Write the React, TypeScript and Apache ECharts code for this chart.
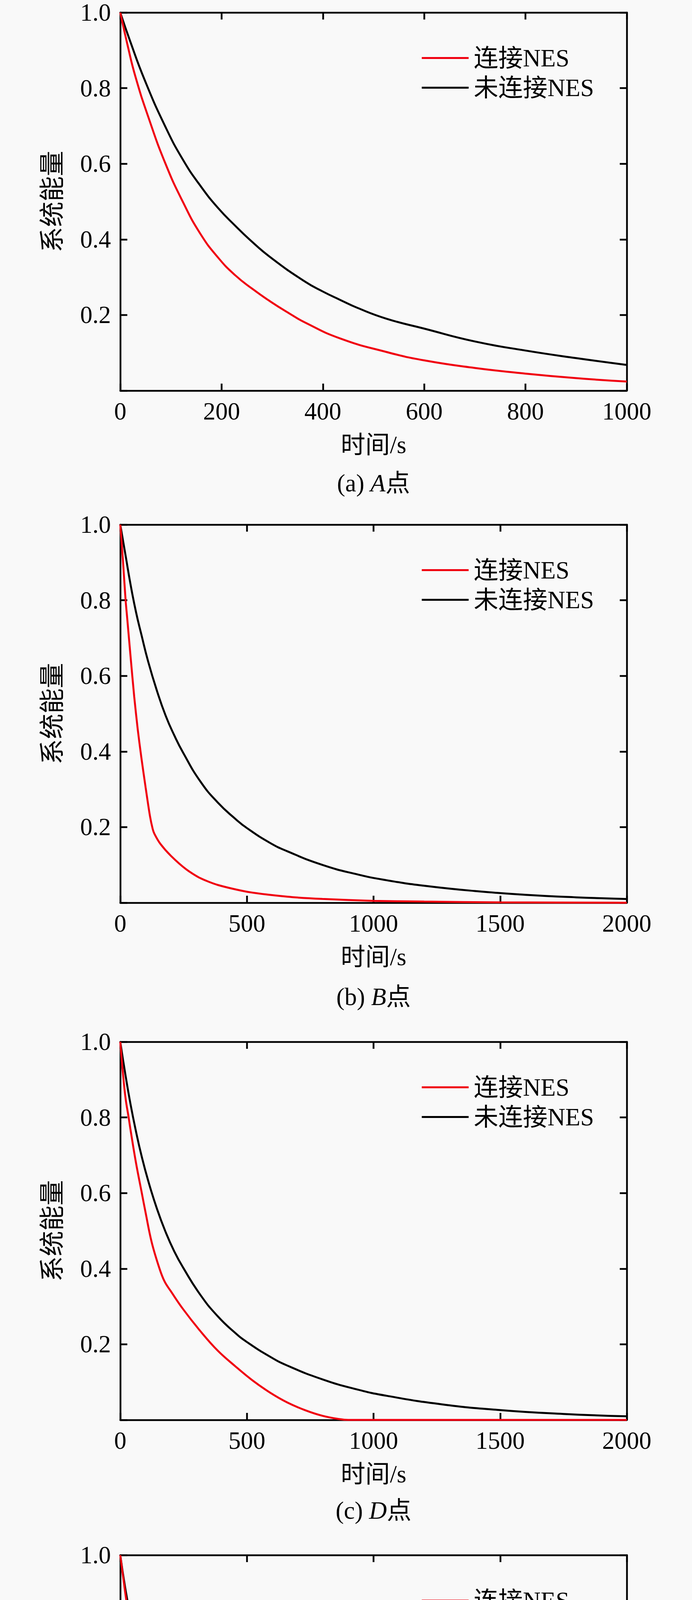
import React, { useEffect, useRef } from "react";
import * as echarts from "echarts";

// ---------- data (time in s, normalized system energy) ----------
const panelCaptions = ["(a) {i|A}点", "(b) {i|B}点", "(c) {i|D}点", "(d) {i|E}点"];
const seriesNames = ["连接NES", "未连接NES"];
const xMaxes = [1000, 2000, 2000, 2000];
const xIntervals = [200, 500, 500, 500];
const yTickLabels = ["", "0.2", "0.4", "0.6", "0.8", "1.0"];

// Panel (a) A点
const aRedT = [0, 15, 30, 55, 89, 124, 158, 193, 227, 262, 296, 334, 365, 434, 526, 600, 700, 800, 900, 1000];
const aRedV = [1.0, 0.91, 0.83, 0.725, 0.601, 0.498, 0.415, 0.352, 0.305, 0.268, 0.236, 0.204, 0.18, 0.138, 0.102, 0.08, 0.06, 0.045, 0.033, 0.024];
const aBlackT = [0, 19, 48, 89, 124, 158, 193, 227, 255, 296, 365, 400, 434, 468, 526, 600, 700, 800, 900, 1000];
const aBlackV = [1.0, 0.926, 0.822, 0.698, 0.61, 0.542, 0.483, 0.436, 0.4, 0.353, 0.288, 0.262, 0.24, 0.219, 0.19, 0.164, 0.13, 0.106, 0.086, 0.068];

// Panel (b) B点
const bRedT = [0, 10, 21, 27, 41, 55, 69, 83, 100, 117, 128, 135, 158, 200, 261, 316, 385, 501, 660, 798, 1000, 1200, 1500, 2000];
const bRedV = [1.0, 0.91, 0.8, 0.755, 0.648, 0.545, 0.458, 0.385, 0.305, 0.23, 0.195, 0.182, 0.156, 0.124, 0.088, 0.065, 0.047, 0.029, 0.016, 0.01, 0.005, 0.003, 0.001, 0.0];
const bBlackT = [0, 21, 41, 62, 83, 110, 145, 179, 213, 248, 316, 385, 454, 501, 592, 660, 798, 936, 1051, 1200, 1400, 1600, 1800, 2000];
const bBlackV = [1.0, 0.918, 0.84, 0.769, 0.71, 0.638, 0.56, 0.495, 0.443, 0.397, 0.321, 0.265, 0.222, 0.197, 0.158, 0.136, 0.1, 0.075, 0.0595, 0.045, 0.031, 0.021, 0.0143, 0.0098];

// Panel (c) D点
const cRedT = [0, 10, 21, 33, 41, 62, 85, 100, 124, 155, 175, 200, 248, 316, 385, 454, 523, 592, 660, 729, 798, 867, 900, 2000];
const cRedV = [1.0, 0.92, 0.85, 0.8, 0.765, 0.68, 0.6, 0.548, 0.47, 0.4, 0.366, 0.34, 0.293, 0.235, 0.183, 0.142, 0.104, 0.072, 0.046, 0.026, 0.011, 0.002, 0.0, 0.0];
const cBlackT = [0, 21, 41, 62, 83, 110, 145, 179, 213, 248, 316, 385, 454, 501, 592, 660, 798, 936, 1051, 1268, 1503, 1750, 2000];
const cBlackV = [1.0, 0.91, 0.833, 0.763, 0.701, 0.633, 0.558, 0.497, 0.446, 0.403, 0.331, 0.274, 0.23, 0.2056, 0.167, 0.1436, 0.1074, 0.0804, 0.0639, 0.0414, 0.0259, 0.0158, 0.0096];

// Panel (d) E点
const dRedT = [0, 21, 41, 62, 83, 110, 145, 179, 213, 248, 316, 385, 454, 501, 592, 660, 798, 936, 1051, 1200, 1320, 2000];
const dRedV = [1.0, 0.894, 0.803, 0.718, 0.646, 0.568, 0.49, 0.425, 0.376, 0.334, 0.262, 0.21, 0.171, 0.148, 0.109, 0.086, 0.053, 0.027, 0.014, 0.005, 0.0, 0.0];
const dBlackT = [0, 21, 41, 62, 83, 110, 145, 179, 213, 248, 316, 385, 454, 501, 592, 660, 798, 936, 1051, 1268, 1503, 1750, 2000];
const dBlackV = [1.0, 0.907, 0.835, 0.77, 0.711, 0.64, 0.562, 0.496, 0.444, 0.399, 0.323, 0.266, 0.2226, 0.198, 0.159, 0.136, 0.102, 0.078, 0.063, 0.0426, 0.028, 0.0184, 0.0123];

const redSets = [
  [aRedT, aRedV],
  [bRedT, bRedV],
  [cRedT, cRedV],
  [dRedT, dRedV],
];
const blackSets = [
  [aBlackT, aBlackV],
  [bBlackT, bBlackV],
  [cBlackT, cBlackV],
  [dBlackT, dBlackV],
];
const redSmooth = [0.5, 0.25, 0.4, 0.5];

// ---------- layout ----------
const W = 1772;
const H = 5226;
const GRID_LEFT = 308;
const GRID_W = 1297;
const GRID_H = 968;
const GRID_TOPS = [32, 1343, 2667, 3981];
const CAPTION_OFFSETS = [237, 241, 232, 236];
const FONT = "'Liberation Serif', 'Noto Sans CJK SC', serif";
const FS = 63;
const RED = "#f00010";
const BLACK = "#000000";
const LW = 5;

function pairs(t: number[], v: number[]) {
  return t.map((x, i) => [x, v[i]]);
}

function buildOption() {
  const grid: any[] = [];
  const xAxis: any[] = [];
  const yAxis: any[] = [];
  const series: any[] = [];
  const legend: any[] = [];
  const graphic: any[] = [];

  const axisLine = { show: true, onZero: false, lineStyle: { color: "#000", width: 4.5 } };
  const axisTick = { show: true, inside: true, length: 18, lineStyle: { color: "#000", width: 4.5 } };

  for (let i = 0; i < 4; i++) {
    const top = GRID_TOPS[i];
    grid.push({ left: GRID_LEFT, top, width: GRID_W, height: GRID_H, show: false });

    xAxis.push({
      gridIndex: i,
      type: "value",
      position: "bottom",
      min: 0,
      max: xMaxes[i],
      interval: xIntervals[i],
      axisLine,
      axisTick,
      splitLine: { show: false },
      axisLabel: {
        fontSize: FS,
        fontFamily: FONT,
        color: "#000",
        margin: 21,
        formatter: (v: number) => String(Math.round(v)),
      },
      name: "时间/s",
      nameLocation: "middle",
      nameGap: 107,
      nameTextStyle: { fontSize: FS, fontFamily: FONT, color: "#000" },
    });
    xAxis.push({
      gridIndex: i,
      type: "value",
      position: "top",
      min: 0,
      max: xMaxes[i],
      interval: xIntervals[i],
      axisLine,
      axisTick,
      splitLine: { show: false },
      axisLabel: { show: false },
    });
    yAxis.push({
      gridIndex: i,
      type: "value",
      position: "left",
      min: 0,
      max: 1,
      interval: 0.2,
      axisLine,
      axisTick,
      splitLine: { show: false },
      axisLabel: {
        fontSize: FS,
        fontFamily: FONT,
        color: "#000",
        margin: 24,
        formatter: (v: number) => yTickLabels[Math.round(v * 5)] ?? "",
      },
      name: "系统能量",
      nameLocation: "middle",
      nameRotate: 90,
      nameGap: 142,
      nameTextStyle: { fontSize: 65, fontFamily: FONT, color: "#000" },
    });
    yAxis.push({
      gridIndex: i,
      type: "value",
      position: "right",
      min: 0,
      max: 1,
      interval: 0.2,
      axisLine,
      axisTick,
      splitLine: { show: false },
      axisLabel: { show: false },
    });

    series.push({
      name: seriesNames[1],
      type: "line",
      xAxisIndex: i * 2,
      yAxisIndex: i * 2,
      data: pairs(blackSets[i][0], blackSets[i][1]),
      symbol: "none",
      showSymbol: false,
      smooth: 0.5,
      clip: false,
      lineStyle: { color: BLACK, width: LW },
      itemStyle: { color: BLACK },
      z: 3,
    });
    series.push({
      name: seriesNames[0],
      type: "line",
      xAxisIndex: i * 2,
      yAxisIndex: i * 2,
      data: pairs(redSets[i][0], redSets[i][1]),
      symbol: "none",
      showSymbol: false,
      smooth: redSmooth[i],
      clip: false,
      lineStyle: { color: RED, width: LW },
      itemStyle: { color: RED },
      z: 4,
    });

    legend.push({
      orient: "vertical",
      left: 1075,
      top: top + 80,
      itemWidth: 120,
      itemHeight: 5,
      itemGap: 13,
      selectedMode: false,
      icon: "rect",
      data: seriesNames.map((n) => ({ name: n, icon: "rect" })),
      textStyle: { fontSize: FS, fontFamily: FONT, color: "#000", lineHeight: 60, padding: [0, 0, 0, 8] },
    });

    graphic.push({
      type: "text",
      x: GRID_LEFT + GRID_W / 2,
      y: top + GRID_H + CAPTION_OFFSETS[i],
      style: {
        text: panelCaptions[i],
        fontSize: FS,
        fontFamily: FONT,
        fill: "#000",
        align: "center",
        verticalAlign: "middle",
        rich: {
          i: { fontSize: FS, fontFamily: FONT, fontStyle: "italic", fill: "#000" },
        },
      },
    });
  }

  return {
    animation: false,
    backgroundColor: "#f9f9f9",
    grid,
    xAxis,
    yAxis,
    series,
    legend,
    graphic,
  };
}

export default function App() {
  const ref = useRef<HTMLDivElement | null>(null);
  useEffect(() => {
    document.body.style.margin = "0";
    document.body.style.background = "#f9f9f9";
    if (!ref.current) return;
    const chart = echarts.init(ref.current, undefined, { renderer: "svg", width: W, height: H });
    chart.setOption(buildOption() as any);
    return () => chart.dispose();
  }, []);
  return <div ref={ref} style={{ width: W, height: H, background: "#f9f9f9" }} />;
}
